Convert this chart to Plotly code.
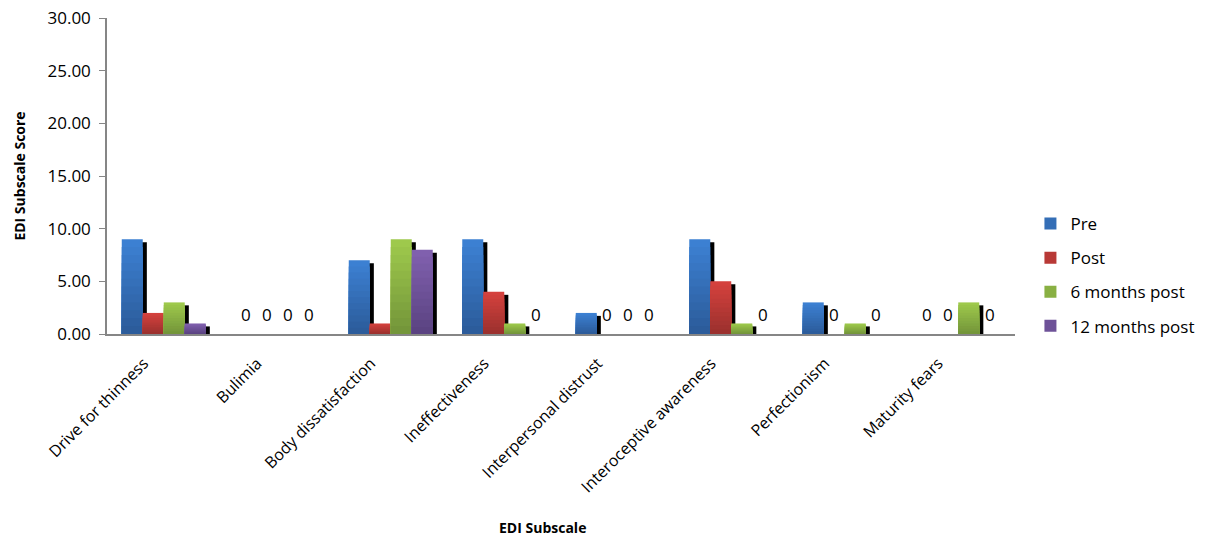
import plotly.graph_objects as go

categories = ["Drive for thinness", "Bulimia", "Body dissatisfaction", "Ineffectiveness",
              "Interpersonal distrust", "Interoceptive awareness", "Perfectionism", "Maturity fears"]
pre = [9, 0, 7, 9, 2, 9, 3, 0]
post = [2, 0, 1, 4, 0, 5, 0, 0]
six_months = [3, 0, 9, 1, 0, 1, 1, 3]
twelve_months = [1, 0, 8, 0, 0, 0, 0, 0]
series_names = ["Pre", "Post", "6 months post", "12 months post"]
# (top colour, bottom colour) of each series' vertical gradient
series_top = ["#3c80d2", "#d4413d", "#9ec94c", "#8060ae"]
series_bottom = ["#2c5c9b", "#9c312e", "#74963a", "#5b4382"]
y_ticks = [0, 5, 10, 15, 20, 25, 30]

FONT = "Open Sans"
bar_w = 0.185
shadow_dx = 0.036
shadow_dy = 0.28
cat_px = 113.5
N_LAYERS = 12


def hex2rgb(h):
    h = h.lstrip("#")
    return [int(h[i:i + 2], 16) for i in (0, 2, 4)]


def mix(c1, c2, t):
    a, b = hex2rgb(c1), hex2rgb(c2)
    return "rgb(%d,%d,%d)" % tuple(round(a[j] + (b[j] - a[j]) * t) for j in range(3))


fig = go.Figure()
all_series = [pre, post, six_months, twelve_months]
for i, (name, vals) in enumerate(zip(series_names, all_series)):
    off = -2 * bar_w + i * bar_w
    top_c, bot_c = series_top[i], series_bottom[i]
    # drop shadow
    fig.add_trace(go.Bar(
        x=categories, y=[max(v - shadow_dy, 0) for v in vals],
        width=bar_w, offset=off + shadow_dx,
        marker=dict(color="black", line=dict(width=0)),
        showlegend=False, hoverinfo="skip"))
    # gradient layers (full bar first, then shorter darker layers on top)
    for k in range(N_LAYERS):
        frac = (N_LAYERS - k) / N_LAYERS
        col = mix(top_c, bot_c, k / (N_LAYERS - 1))
        fig.add_trace(go.Bar(
            x=categories, y=[v * frac for v in vals],
            width=bar_w, offset=off,
            marker=dict(color=col, line=dict(width=0)),
            name=name, legendgroup=name, showlegend=False,
            hoverinfo="skip"))
    # legend entry + hover (transparent bars carrying the real values)
    fig.add_trace(go.Bar(
        x=categories, y=vals, name=name, width=bar_w, offset=off,
        marker=dict(color=mix(top_c, bot_c, 0.5), opacity=0, line=dict(width=0)),
        legendgroup=name, showlegend=True))
    for c, v in zip(categories, vals):
        if v == 0:
            fig.add_annotation(x=c, y=0, text="0", showarrow=False,
                               xshift=(off + bar_w / 2) * cat_px, yshift=6,
                               yanchor="bottom", font=dict(family=FONT, size=17, color="black"))

fig.add_annotation(x=0.5, y=-0.611, xref="paper", yref="paper", text="<b>EDI Subscale</b>",
                   showarrow=False, xshift=-19, yanchor="middle",
                   font=dict(family=FONT, size=14, color="black"))

fig.update_layout(
    width=1215, height=538,
    margin=dict(l=107, r=200, t=18, b=204, autoexpand=False),
    barmode="overlay",
    plot_bgcolor="white", paper_bgcolor="white",
    font=dict(family=FONT, size=15, color="black"),
    legend=dict(x=1.017, y=0.405, xanchor="left", yanchor="top",
                font=dict(family=FONT, size=17), tracegroupgap=9,
                itemwidth=30),
    xaxis=dict(showline=True, linecolor="#868686", linewidth=1.5, ticks="",
               tickangle=-45, tickfont=dict(family=FONT, size=16), showgrid=False,
               automargin=False, ticklabelshift=-20, ticklabelstandoff=12,
               ticklabeloverflow="allow"),
    yaxis=dict(range=[0, 30], tickvals=y_ticks, tickformat=".2f", showline=True,
               linecolor="#868686", linewidth=1.5, ticks="outside", ticklen=6,
               tickcolor="#868686", showgrid=False, zeroline=False,
               tickfont=dict(family=FONT, size=17), automargin=False,
               ticklabelstandoff=5, ticklabeloverflow="allow",
               title=dict(text="<b>EDI Subscale Score</b>", standoff=19,
                          font=dict(family=FONT, size=14))),
)

fig.write_html("out.html", config={"displayModeBar": False},
               post_script="document.body.style.margin='0';document.body.style.overflow='hidden';")
